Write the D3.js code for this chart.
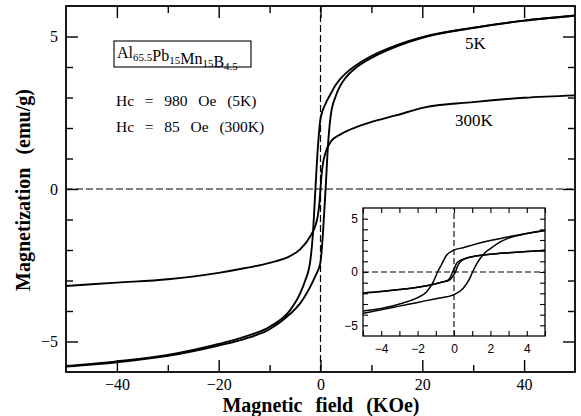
<!DOCTYPE html>
<html>
<head>
<meta charset="utf-8">
<script src="https://cdn.jsdelivr.net/npm/d3@7"></script>
<style>
  html, body { margin: 0; padding: 0; background: #fff; }
  svg { display: block; }
  text { fill: #000; }
</style>
</head>
<body>
<svg id="chart" width="581" height="416"></svg>
<script>
// Field H in kOe, magnetization M in emu/g, listed in sweep order.
const main5KDown = [[50,5.68],[40,5.52],[30,5.29],[20,4.98],[15,4.72],[10,4.36],[7,4.06],[5,3.8],[3,3.42],[2,3.12],[1,2.8],[0,2.3],[-0.5,1.4],[-1,0],[-1.5,-1.5],[-2,-2.35],[-3,-3.0],[-4,-3.42],[-6,-3.98],[-10,-4.52],[-15,-4.85],[-20,-5.08],[-30,-5.44],[-40,-5.65],[-50,-5.8]];
const main5KUp = [[-50,-5.82],[-40,-5.68],[-30,-5.47],[-20,-5.13],[-15,-4.92],[-10,-4.6],[-6,-4.1],[-4,-3.75],[-3,-3.5],[-2,-3.2],[-1,-2.85],[0,-2.4],[0.5,-1.4],[1,0],[1.5,1.5],[2,2.4],[3,3.05],[4,3.42],[5,3.66],[7,3.98],[10,4.3],[15,4.68],[20,4.96],[30,5.28],[40,5.52],[50,5.69]];
const main300K = [[-50,-3.18],[-40,-3.07],[-30,-2.96],[-20,-2.75],[-15,-2.6],[-10,-2.42],[-6,-2.2],[-4,-1.98],[-2,-1.55],[-1,-1.2],[-0.5,-0.85],[-0.2,-0.45],[0,0],[0.2,0.45],[0.5,0.85],[1,1.2],[2,1.55],[4,1.8],[7,2.03],[10,2.2],[15,2.42],[20,2.66],[30,2.85],[40,2.99],[50,3.07]];

// Low-field loops (±5 kOe)
const low5KDown = [[5,3.88],[4,3.62],[3,3.3],[2.5,3.12],[2,2.95],[1,2.52],[0.5,2.28],[0,2.05],[-0.4,1.6],[-0.7,0.65],[-0.9,0],[-1.15,-0.95],[-1.5,-1.85],[-2,-2.4],[-2.8,-2.9],[-4,-3.42],[-5,-3.65]];
const low5KUp = [[-5,-3.88],[-4,-3.55],[-3,-3.2],[-2,-2.85],[-1,-2.5],[0,-2.12],[0.5,-1.55],[0.85,-0.65],[1.02,0],[1.3,0.92],[1.65,1.72],[2,2.2],[2.5,2.78],[3,3.18],[4,3.6],[5,3.9]];
const low300KDown = [[5,2.03],[4,1.92],[3,1.8],[2,1.66],[1.5,1.56],[1,1.43],[0.6,1.25],[0.3,1.05],[0.12,0.75],[0.02,0.3],[-0.08,0],[-0.2,-0.5],[-0.35,-0.78],[-0.6,-0.92],[-1,-1.1],[-1.5,-1.28],[-2,-1.43],[-3,-1.65],[-4,-1.83],[-5,-1.97]];
const low300KUp = [[-5,-1.97],[-4,-1.83],[-3,-1.65],[-2,-1.43],[-1.5,-1.28],[-1,-1.1],[-0.6,-0.92],[-0.35,-0.85],[-0.2,-0.7],[-0.05,-0.35],[0.08,0],[0.18,0.5],[0.35,0.95],[0.6,1.25],[1,1.43],[1.5,1.56],[2,1.66],[3,1.8],[4,1.92],[5,2.03]];

// Tick values
const xMajor = [-40, -20, 0, 20, 40];
const xMinor = [-30, -10, 10, 30];
const yMajor = [-5, 0, 5];
const yMinor = [-4, -3, -2, -1, 1, 2, 3, 4];
const insetXLabels = [-4, -2, 0, 2, 4];
const insetXMinor = [-5, -3, -1, 1, 3, 5];
const insetYLabels = [-5, 0, 5];
const insetYMinor = [-4, -3, -2, -1, 1, 2, 3, 4];

const SERIF = '"Liberation Serif", "Times New Roman", serif';
const SANS = '"Liberation Sans", Arial, sans-serif';

const svg = d3.select("#chart");
const fmt = d => d < 0 ? "\u2212" + Math.abs(d) : String(d);

function drawAxes(g, x, y, opt) {
  const [x0, x1] = x.range();
  const [y0, y1] = y.range();
  const style = sel => {
    sel.select(".domain").remove();
    sel.selectAll("line").attr("stroke", "#000").attr("stroke-width", opt.tickWidth);
    sel.selectAll("text").style("font-family", opt.font).style("font-size", opt.fontSize + "px");
  };
  const add = (axis, tr) => g.append("g").attr("transform", tr).call(axis).call(style);
  // bottom / top
  add(d3.axisBottom(x).tickValues(opt.xMajor).tickSize(-opt.major).tickPadding(opt.xPad).tickFormat(fmt), `translate(0,${y0})`);
  add(d3.axisBottom(x).tickValues(opt.xMinor).tickSize(-opt.minor).tickFormat(""), `translate(0,${y0})`);
  add(d3.axisTop(x).tickValues(opt.xMajor).tickSize(-opt.major).tickFormat(""), `translate(0,${y1})`);
  add(d3.axisTop(x).tickValues(opt.xMinor).tickSize(-opt.minor).tickFormat(""), `translate(0,${y1})`);
  // left / right
  add(d3.axisLeft(y).tickValues(opt.yMajor).tickSize(-opt.major).tickPadding(opt.yPad).tickFormat(fmt), `translate(${x0},0)`);
  add(d3.axisLeft(y).tickValues(opt.yMinor).tickSize(-opt.minor).tickFormat(""), `translate(${x0},0)`);
  add(d3.axisRight(y).tickValues(opt.yMajor).tickSize(-opt.major).tickFormat(""), `translate(${x1},0)`);
  add(d3.axisRight(y).tickValues(opt.yMinor).tickSize(-opt.minor).tickFormat(""), `translate(${x1},0)`);
}

function drawCurves(g, x, y, branches, width) {
  const line = d3.line().x(d => x(d[0])).y(d => y(d[1])).curve(d3.curveMonotoneX);
  branches.forEach(b => {
    const pts = b.slice().sort((a, c) => a[0] - c[0]);
    g.append("path").attr("d", line(pts))
      .attr("fill", "none").attr("stroke", "#000")
      .attr("stroke-width", width).attr("stroke-linejoin", "round");
  });
}

function zeroLines(g, x, y, width, dash) {
  g.append("line").attr("x1", x.range()[0]).attr("x2", x.range()[1])
    .attr("y1", y(0)).attr("y2", y(0))
    .attr("stroke", "#000").attr("stroke-width", width).attr("stroke-dasharray", dash);
  g.append("line").attr("x1", x(0)).attr("x2", x(0))
    .attr("y1", y.range()[0]).attr("y2", y.range()[1])
    .attr("stroke", "#000").attr("stroke-width", width).attr("stroke-dasharray", dash);
}

function serifText(parent, x, y, size, str, bold) {
  return parent.append("text").attr("x", x).attr("y", y)
    .style("font-family", SERIF).style("font-size", size + "px")
    .style("font-weight", bold ? "bold" : "normal").style("white-space", "pre")
    .text(str);
}

// ---------- main panel ----------
const x = d3.scaleLinear().domain([-50, 50]).range([66, 575]);
const y = d3.scaleLinear().domain([-6, 6]).range([372, 6]);
const main = svg.append("g");

zeroLines(main, x, y, 1.2, "7,3");
drawCurves(main, x, y, [main5KDown, main5KUp, main300K], 1.9);
drawAxes(main, x, y, {
  xMajor, xMinor, yMajor, yMinor, major: 12, minor: 7, xPad: 7, yPad: 8,
  tickWidth: 1.4, font: SERIF, fontSize: 16
});
main.append("rect").attr("x", 66).attr("y", 6).attr("width", 509).attr("height", 366)
  .attr("fill", "none").attr("stroke", "#000").attr("stroke-width", 1.8);

// axis titles
serifText(svg, 321, 412, 20, "Magnetic  field  (KOe)", true)
  .attr("text-anchor", "middle").style("word-spacing", "1.5px");
serifText(svg, 0, 0, 20, "Magnetization  (emu/g)", true)
  .attr("text-anchor", "middle").style("word-spacing", "1.5px")
  .attr("transform", "translate(30,190) rotate(-90)");

// composition box
main.append("rect").attr("x", 114).attr("y", 41).attr("width", 137).attr("height", 26)
  .attr("fill", "#fff").attr("stroke", "#000").attr("stroke-width", 1.1);
const comp = serifText(main, 117, 58, 16, "", false);
[["Al", "65.5"], ["Pb", "15"], ["Mn", "15"], ["B", "4.5"]].forEach(([el, n]) => {
  comp.append("tspan").text(el);
  comp.append("tspan").style("font-size", "11px").attr("dy", 3).text(n);
  comp.append("tspan").attr("dy", -3).text("");
});

serifText(main, 116, 106, 15.5, "Hc  =  980  Oe  (5K)", false).style("word-spacing", "1.5px");
serifText(main, 116, 132, 15.5, "Hc  =  85  Oe  (300K)", false).style("word-spacing", "1.5px");

serifText(main, 465, 49, 17, "5K", false);
serifText(main, 455, 126, 17, "300K", false);

// ---------- inset: low-field loops ----------
const xi = d3.scaleLinear().domain([-5, 5]).range([363, 545]);
const yi = d3.scaleLinear().domain([-6, 6]).range([336, 208]);
const inset = svg.append("g");
inset.append("rect").attr("x", 363).attr("y", 208).attr("width", 182).attr("height", 128)
  .attr("fill", "#fff");
zeroLines(inset, xi, yi, 1.1, "6,3");
drawCurves(inset, xi, yi, [low5KDown, low5KUp, low300KDown, low300KUp], 1.5);
drawAxes(inset, xi, yi, {
  xMajor: insetXLabels, xMinor: insetXMinor, yMajor: insetYLabels, yMinor: insetYMinor,
  major: 5, minor: 5, xPad: 8, yPad: 5,
  tickWidth: 1.1, font: SANS, fontSize: 12
});
inset.append("rect").attr("x", 363).attr("y", 208).attr("width", 182).attr("height", 128)
  .attr("fill", "none").attr("stroke", "#000").attr("stroke-width", 1.3);
</script>
</body>
</html>
